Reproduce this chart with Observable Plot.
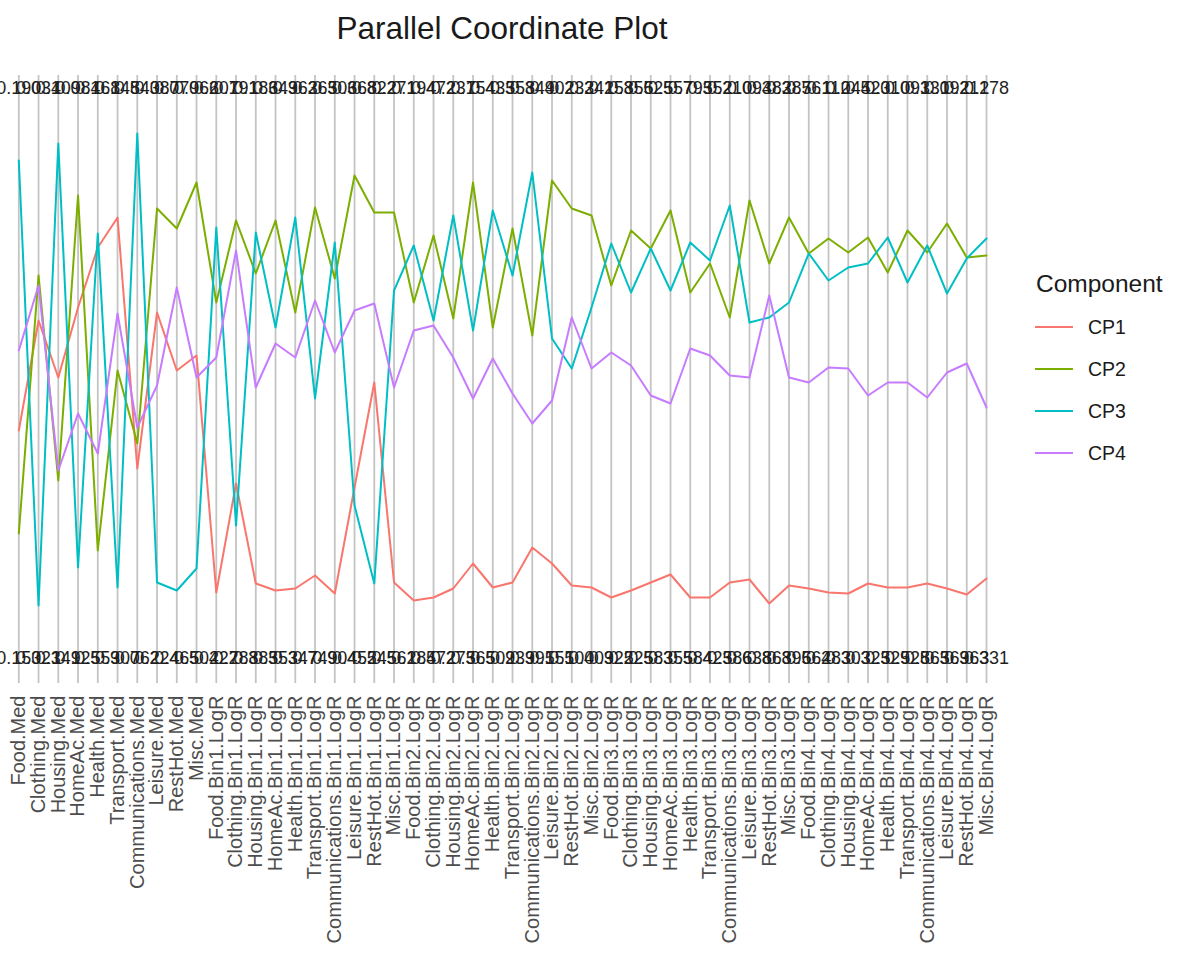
<!DOCTYPE html>
<html>
<head>
<meta charset="utf-8">
<script src="https://cdn.jsdelivr.net/npm/d3@7"></script>
<script src="https://cdn.jsdelivr.net/npm/@observablehq/plot@0.6"></script>
<style>
  body { margin: 0; background: #fff; font-family: "Liberation Sans", Arial, sans-serif; }
  #wrap { position: relative; width: 1181px; height: 959px; overflow: hidden; background: #fff; }
  #chart { position: absolute; left: 0; top: 0; }
  #title { position: absolute; left: 0; width: 1004px; top: 13px; text-align: center;
           font-size: 31.5px; line-height: 1; color: #1a1a1a; white-space: nowrap; }
  #legend { position: absolute; left: 1020px; top: 250px; }
</style>
</head>
<body>
<div id="wrap">
  <div id="chart"></div>
  <div id="title">Parallel Coordinate Plot</div>
  <svg id="legend" width="161" height="230"></svg>
</div>
<script>
const variables = [
  "Food.Med","Clothing.Med","Housing.Med","HomeAc.Med","Health.Med","Transport.Med","Communications.Med","Leisure.Med","RestHot.Med","Misc.Med",
  "Food.Bin1.LogR","Clothing.Bin1.LogR","Housing.Bin1.LogR","HomeAc.Bin1.LogR","Health.Bin1.LogR","Transport.Bin1.LogR","Communications.Bin1.LogR","Leisure.Bin1.LogR","RestHot.Bin1.LogR","Misc.Bin1.LogR",
  "Food.Bin2.LogR","Clothing.Bin2.LogR","Housing.Bin2.LogR","HomeAc.Bin2.LogR","Health.Bin2.LogR","Transport.Bin2.LogR","Communications.Bin2.LogR","Leisure.Bin2.LogR","RestHot.Bin2.LogR","Misc.Bin2.LogR",
  "Food.Bin3.LogR","Clothing.Bin3.LogR","Housing.Bin3.LogR","HomeAc.Bin3.LogR","Health.Bin3.LogR","Transport.Bin3.LogR","Communications.Bin3.LogR","Leisure.Bin3.LogR","RestHot.Bin3.LogR","Misc.Bin3.LogR",
  "Food.Bin4.LogR","Clothing.Bin4.LogR","Housing.Bin4.LogR","HomeAc.Bin4.LogR","Health.Bin4.LogR","Transport.Bin4.LogR","Communications.Bin4.LogR","Leisure.Bin4.LogR","RestHot.Bin4.LogR","Misc.Bin4.LogR"
];

const components = ["CP1", "CP2", "CP3", "CP4"];
const componentColors = ["#F8766D", "#7CAE00", "#00BFC4", "#C77CFF"];

const cp1 = [-0.120,0.100,-0.014,0.126,0.246,0.306,-0.196,0.116,0.000,0.030,
  -0.444,-0.226,-0.426,-0.440,-0.436,-0.410,-0.446,-0.234,-0.024,-0.424,
  -0.460,-0.454,-0.436,-0.386,-0.434,-0.424,-0.354,-0.386,-0.430,-0.434,
  -0.454,-0.440,-0.424,-0.408,-0.454,-0.454,-0.424,-0.418,-0.466,-0.430,
  -0.436,-0.444,-0.446,-0.426,-0.434,-0.434,-0.426,-0.436,-0.448,-0.416];
const cp2 = [-0.326,0.190,-0.220,0.350,-0.360,0.000,-0.146,0.324,0.284,0.376,
  0.136,0.300,0.194,0.300,0.116,0.326,0.184,0.390,0.316,0.316,
  0.136,0.270,0.104,0.376,0.086,0.284,0.070,0.380,0.324,0.310,
  0.170,0.280,0.244,0.320,0.156,0.214,0.106,0.340,0.214,0.306,
  0.234,0.264,0.236,0.266,0.196,0.280,0.236,0.294,0.226,0.230];
const cp3 = [0.420,-0.470,0.454,-0.394,0.274,-0.434,0.474,-0.424,-0.440,-0.396,
  0.286,-0.310,0.276,0.086,0.306,-0.056,0.256,-0.270,-0.426,0.160,
  0.250,0.100,0.310,0.080,0.320,0.190,0.396,0.064,0.004,0.126,
  0.254,0.156,0.244,0.160,0.256,0.220,0.330,0.096,0.106,0.136,
  0.234,0.180,0.206,0.214,0.266,0.176,0.250,0.154,0.224,0.264];
const cp4 = [0.040,0.170,-0.200,-0.086,-0.166,0.114,-0.114,-0.030,0.166,-0.014,
  0.026,0.240,-0.034,0.054,0.026,0.140,0.036,0.120,0.134,-0.034,
  0.080,0.090,0.026,-0.056,0.024,-0.046,-0.106,-0.060,0.106,0.004,
  0.036,0.010,-0.050,-0.066,0.044,0.030,-0.010,-0.014,0.150,-0.014,
  -0.024,0.006,0.004,-0.050,-0.024,-0.024,-0.054,-0.004,0.014,-0.074];

// per-axis max / min annotations (overlapping, largely illegible in the original)
const topLabels = ["0.190","0.034","0.109","0.084","0.168","0.148","0.540","0.387","0.079","0.066",
  "0.207","0.191","0.186","0.349","0.363","0.265","0.306","0.368","0.822","0.271",
  "0.194","0.472","0.237","0.154","0.435","0.358","0.349","0.402","0.233","0.242",
  "0.158","0.356","0.525","0.557","0.795","0.352","0.210","0.094","0.382","0.385",
  "0.761","0.112","0.044","0.523","0.010","0.093","0.131","0.092","0.212","0.178"];
const bottomLabels = ["0.150","0.321","0.349","0.125","0.553","0.907","0.062","0.224","0.465","0.502",
  "0.427","0.288","0.385","0.353","0.347","0.749","0.904","0.452","0.545","0.562",
  "0.184","0.572","0.275","0.365","0.509","0.239","0.395","0.151","0.500","0.409",
  "0.325","0.225","0.583","0.355","0.584","0.425","0.386","0.638","0.863","0.896",
  "0.564","0.283","0.303","0.325","0.325","0.928","0.565","0.369","0.363","0.331"];

const series = [cp1, cp2, cp3, cp4];
const rows = [];
series.forEach((vals, k) => vals.forEach((v, i) => rows.push({component: components[k], variable: variables[i], value: v})));

const chart = Plot.plot({
  width: 1181,
  height: 959,
  marginLeft: 18.3,
  marginRight: 195,
  marginTop: 75,
  marginBottom: 269,
  style: {fontFamily: "'Liberation Sans', Arial, sans-serif", background: "transparent", overflow: "visible"},
  x: {type: "point", domain: variables, padding: 0},
  y: {domain: [-0.64, 0.59], axis: null},
  color: {domain: components, range: componentColors},
  marks: [
    Plot.ruleX(variables, {x: d => d, stroke: "#c4c4c4", strokeWidth: 1.8, insetBottom: 7}),
    Plot.text(variables, {x: d => d, text: (d, i) => topLabels[i], frameAnchor: "top", lineAnchor: "middle", dy: 13, fontSize: 18, fill: "#1f1f1f"}),
    Plot.text(variables, {x: d => d, text: (d, i) => bottomLabels[i], frameAnchor: "bottom", lineAnchor: "middle", dy: -32, fontSize: 18, fill: "#1f1f1f"}),
    Plot.line(rows, {x: "variable", y: "value", z: "component", stroke: "component", strokeWidth: 2}),
    Plot.axisX({tickRotate: -90, tickSize: 0, tickPadding: 5, fontSize: 20, color: "#4d4d4d", label: null})
  ]
});
document.getElementById("chart").appendChild(chart);

// legend
const lg = d3.select("#legend");
lg.append("text").attr("x", 16).attr("y", 33).attr("dominant-baseline", "central")
  .attr("font-size", 24.5).attr("fill", "#1a1a1a").text("Component");
components.forEach((c, k) => {
  const yy = 77 + k * 42;
  lg.append("line").attr("x1", 15).attr("x2", 53).attr("y1", yy).attr("y2", yy)
    .attr("stroke", componentColors[k]).attr("stroke-width", 2);
  lg.append("text").attr("x", 68).attr("y", yy).attr("dominant-baseline", "central")
    .attr("font-size", 19.5).attr("fill", "#1a1a1a").text(c);
});
</script>
</body>
</html>
